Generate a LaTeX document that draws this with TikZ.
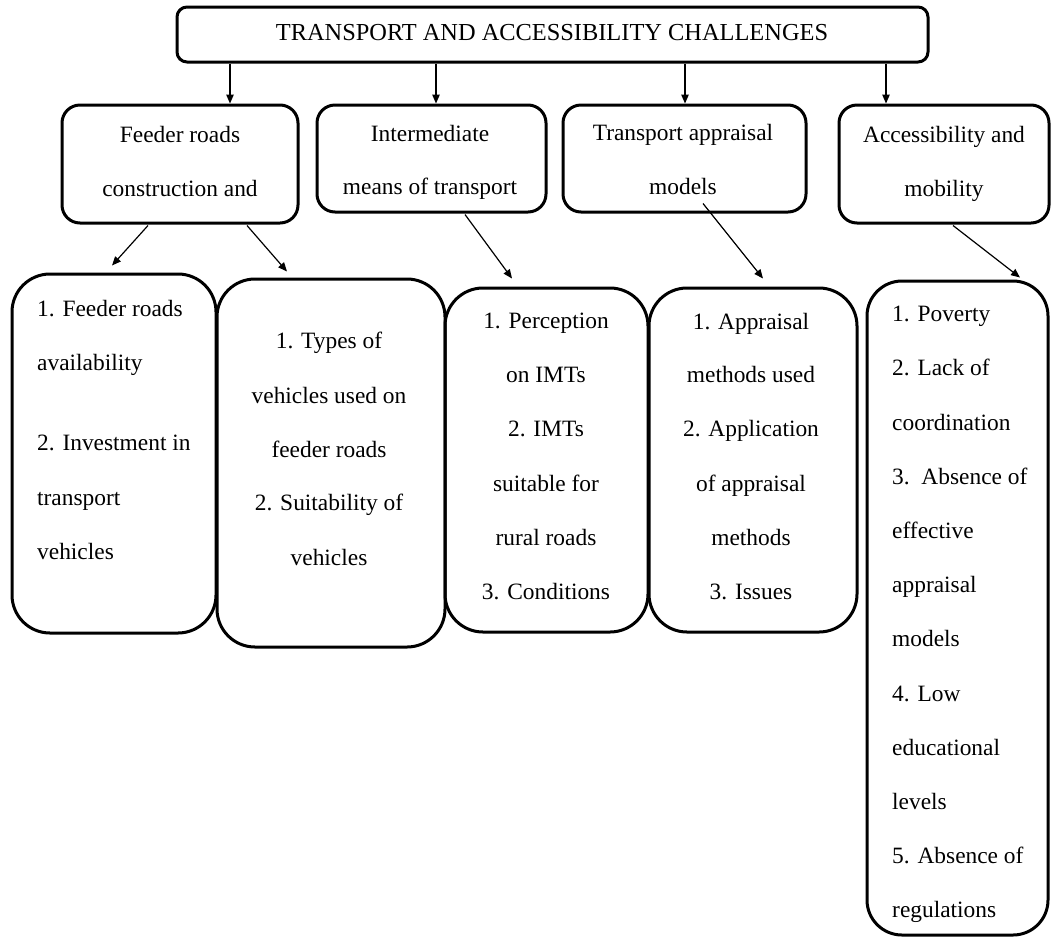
\documentclass[tikz,border=0pt]{standalone}
\usepackage{fontspec}
\setmainfont{Liberation Serif}
\usetikzlibrary{arrows.meta}
\begin{document}
\begin{tikzpicture}[x=1pt,y=-1pt,
  box/.style={draw, line width=3pt, rounded corners=#1, inner sep=0pt},
  arr/.style={-{Triangle[length=9pt,width=7.5pt]}, line width=1.2pt},
  txt/.style={anchor=base, inner sep=0pt, font=\fontsize{23.4}{27}\selectfont},
  txtl/.style={txt, anchor=base west}]
\useasboundingbox (0,0) rectangle (1051,938);
% boxes
\node[box=10pt, minimum width=751pt, minimum height=55pt] (top) at (552.5,34.5) {};
\node[box=18pt, minimum width=236pt, minimum height=118pt] (A) at (180,164) {};
\node[box=18pt, minimum width=229pt, minimum height=107pt] (B) at (431.5,158.5) {};
\node[box=18pt, minimum width=243pt, minimum height=107pt] (C) at (684.5,158.5) {};
\node[box=18pt, minimum width=210pt, minimum height=118pt] (D) at (944,164) {};
\node[box=38pt, minimum width=204pt, minimum height=359pt] (R1) at (114,453.5) {};
\node[box=38pt, minimum width=228pt, minimum height=368pt] (R2) at (331,463) {};
\node[box=38pt, minimum width=203pt, minimum height=344pt] (R3) at (546.5,460) {};
\node[box=38pt, minimum width=208pt, minimum height=344pt] (R4) at (753,460) {};
\node[box=35pt, minimum width=181pt, minimum height=654pt] (R5) at (957.5,608) {};
% texts
\node[txt, font=\fontsize{24.4}{27}\selectfont] (ttop) at (552,40) {TRANSPORT AND ACCESSIBILITY CHALLENGES};
\node[txt] (ta1) at (180,142) {Feeder roads};
\node[txt] (ta2) at (180,196) {construction and};
\node[txt] (tb1) at (430,141) {Intermediate};
\node[txt] (tb2) at (430,194) {means of transport};
\node[txt] (tc1) at (683,140) {Transport appraisal};
\node[txt] (tc2) at (683,194) {models};
\node[txt] (td1) at (944,142) {Accessibility and};
\node[txt] (td2) at (944,196) {mobility};
\foreach \y/\t [count=\i] in {316/1. Feeder roads, 370/availability, 450/2. Investment in, 505/transport, 559/vehicles}
  \node[txtl] (ra\i) at (37,\y) {\t};
\foreach \y/\t [count=\i] in {348/1. Types of, 403/vehicles used on, 457/feeder roads, 510/2. Suitability of, 565/vehicles}
  \node[txt] (rb\i) at (329,\y) {\t};
\foreach \y/\t [count=\i] in {328/1. Perception, 382/on IMTs, 436/2. IMTs, 491/suitable for, 545/rural roads, 599/3. Conditions}
  \node[txt] (rc\i) at (546,\y) {\t};
\foreach \y/\t [count=\i] in {329/1. Appraisal, 382/methods used, 436/2. Application, 491/of appraisal, 545/methods, 599/3. Issues}
  \node[txt] (rd\i) at (751,\y) {\t};
\foreach \y/\t [count=\i] in {321/1. Poverty, 375/2. Lack of, 430/coordination, 484/3.\ \ Absence of, 538/effective, 592/appraisal, 646/models, 701/4. Low, 755/educational, 809/levels, 863/5. Absence of, 917/regulations}
  \node[txtl] (re\i) at (892,\y) {\t};
% connectors from top
\draw[arr] ([xshift=-322.5pt]top.south) -- ([xshift=50pt]A.north);
\draw[arr] ([xshift=-116.5pt]top.south) -- ([xshift=4.5pt]B.north);
\draw[arr] ([xshift=132.5pt]top.south) -- ([xshift=0.5pt]C.north);
\draw[arr] ([xshift=333.5pt]top.south) -- ([xshift=-58pt]D.north);
% diagonal connectors
\draw[arr] ([xshift=-32pt,yshift=-1pt]A.south) -- ([xshift=-2pt,yshift=7pt]R1.north);
\draw[arr] ([xshift=67pt,yshift=-1pt]A.south) -- ([xshift=-44pt,yshift=6pt]R2.north);
\draw[arr] ([xshift=33.5pt,yshift=-1pt]B.south) -- ([xshift=-34.5pt,yshift=8pt]R3.north);
\draw[arr] ([xshift=18.5pt,yshift=10pt]C.south) -- ([xshift=10pt,yshift=8pt]R4.north);
\draw[arr] ([xshift=9pt,yshift=-1pt]D.south) -- ([xshift=62.5pt,yshift=2pt]R5.north);
\end{tikzpicture}
\end{document}
